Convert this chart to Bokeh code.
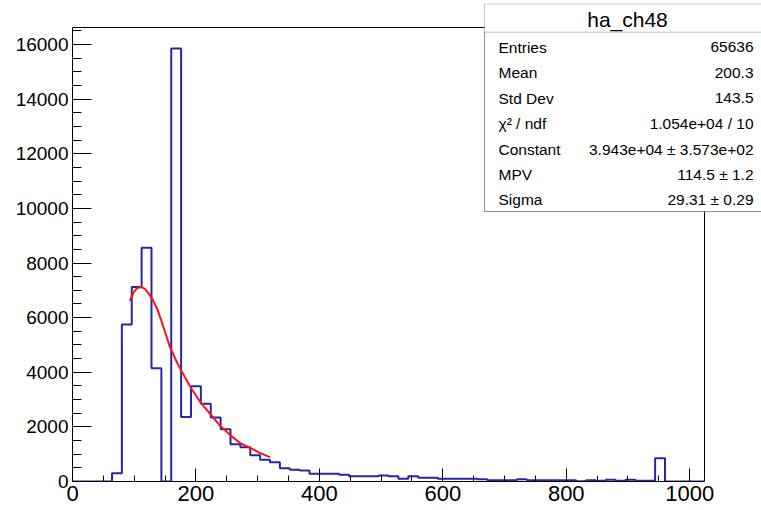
from bokeh.plotting import figure
from bokeh.models import Range1d, SingleIntervalTicker, BoxAnnotation, Label
from bokeh.embed import file_html
from bokeh.resources import INLINE

# ---------------- data ----------------
bin_width = 16
x_start, x_end = 0, 1024          # histogram axis range
y_top = 16625                     # histogram frame top

counts = [0, 0, 0, 0, 300, 5750, 7120, 8560, 4150, 0,
          15860, 2360, 3490, 2846, 2340, 1910, 1360, 1250, 960, 794,
          708, 488, 427, 403, 281, 281, 281, 244, 195, 195,
          195, 220, 195, 98, 195, 134, 134, 98, 98, 98,
          98, 85, 49, 49, 50, 85, 50, 50, 50, 50,
          50, 10, 50, 25, 60, 25, 60, 25, 25, 855,
          0, 0, 0, 0]

fit_x = [93, 99, 105, 111, 117, 123, 130, 137, 144, 151, 158, 167,
         176, 191, 207, 223, 240, 256, 272, 288, 304, 320]
fit_y = [6610, 6930, 7080, 7120, 7060, 6900, 6650, 6330, 5880, 5400, 4920, 4470,
         4070, 3460, 2910, 2480, 2020, 1690, 1400, 1230, 1040, 890]

stats_title = "ha_ch48"
stats_names = ["Entries", "Mean", "Std Dev", "\u03c7\u00b2 / ndf", "Constant", "MPV", "Sigma"]
stats_values = ["65636", "200.3", "143.5", "1.054e+04 / 10",
                "3.943e+04 \u00b1 3.573e+02", "114.5 \u00b1 1.2", "29.31 \u00b1 0.29"]

# ---------------- layout (pixels) ----------------
W, H = 761, 510
FL, FB = 72, 481        # histogram frame left / bottom
FR, FT = 704, 27        # histogram frame right / top
CT = 3                  # canvas frame top (stats box reaches up here)

x_view_end = x_end * (W - FL) / (FR - FL)
y_view_end = y_top * (FB - CT) / (FB - FT)

p = figure(width=W, height=H, output_backend="svg", toolbar_location=None,
           x_range=Range1d(x_start, x_view_end), y_range=Range1d(0, y_view_end),
           min_border_left=FL, min_border_right=0, min_border_top=CT,
           min_border_bottom=H - FB, title=None)
p.background_fill_color = "white"
p.border_fill_color = "white"
p.outline_line_color = None
p.grid.visible = False

font = "Liberation Sans"
p.xaxis.ticker = SingleIntervalTicker(interval=200, num_minor_ticks=4)
p.yaxis.ticker = SingleIntervalTicker(interval=2000, num_minor_ticks=4)
p.xaxis.bounds = (x_start, x_end)
p.yaxis.bounds = (0, y_top)
for ax in (p.xaxis[0], p.yaxis[0]):
    ax.major_tick_out = 0
    ax.minor_tick_out = 0
    ax.axis_line_color = "black"
    ax.major_tick_line_color = "black"
    ax.minor_tick_line_color = "black"
    ax.major_label_text_font = font
    ax.major_label_text_color = "black"
p.xaxis.major_tick_in = 13
p.xaxis.minor_tick_in = 6
p.yaxis.major_tick_in = 19
p.yaxis.minor_tick_in = 9
p.xaxis.major_label_text_font_size = "22px"
p.yaxis.major_label_text_font_size = "19px"
p.xaxis.major_label_standoff = 4
p.yaxis.major_label_standoff = 4

# top and right edges of the histogram frame
p.line(x=[x_start, x_end, x_end], y=[y_top, y_top, 0], line_color="black", line_width=1)

# histogram outline
edges = [x_start + i * bin_width for i in range(len(counts) + 1)]
p.step(x=edges, y=counts + [counts[-1]], mode="after", line_color="#2626a8", line_width=2)

# fit curve
p.line(x=fit_x, y=fit_y, line_color="#ff1010", line_width=2)

# ---------------- stats box (screen units, from frame bottom-left) ----------------
def sx(px):
    return px - FL

def sy(py):
    return FB - py

box_kw = dict(left_units="screen", right_units="screen", top_units="screen",
              bottom_units="screen", line_color="#333333", line_width=1, level="overlay")
p.add_layout(BoxAnnotation(left=sx(484), right=sx(W + 10), top=sy(3.5), bottom=sy(211),
                           fill_color="white", fill_alpha=1.0, **box_kw))
p.add_layout(BoxAnnotation(left=sx(484), right=sx(W + 10), top=sy(31.7), bottom=sy(211),
                           fill_alpha=0.0, **box_kw))

p.add_layout(Label(x=sx(627), y=sy(19), x_units="screen", y_units="screen",
                   text=stats_title, text_align="center", text_baseline="middle",
                   text_font=font, text_font_size="21px", text_color="black", level="overlay"))

row_y = [46.7, 72.3, 97.7, 123.3, 149.0, 174.3, 199.3]
for name, val, yy in zip(stats_names, stats_values, row_y):
    p.add_layout(Label(x=sx(498), y=sy(yy), x_units="screen", y_units="screen", text=name,
                       text_align="left", text_baseline="middle",
                       text_font=font, text_font_size="15.5px", text_color="black",
                       level="overlay"))
    p.add_layout(Label(x=sx(753), y=sy(yy), x_units="screen", y_units="screen", text=val,
                       text_align="right", text_baseline="middle",
                       text_font=font, text_font_size="15.5px", text_color="black",
                       level="overlay"))

open("out.html", "w").write(file_html(p, INLINE))
